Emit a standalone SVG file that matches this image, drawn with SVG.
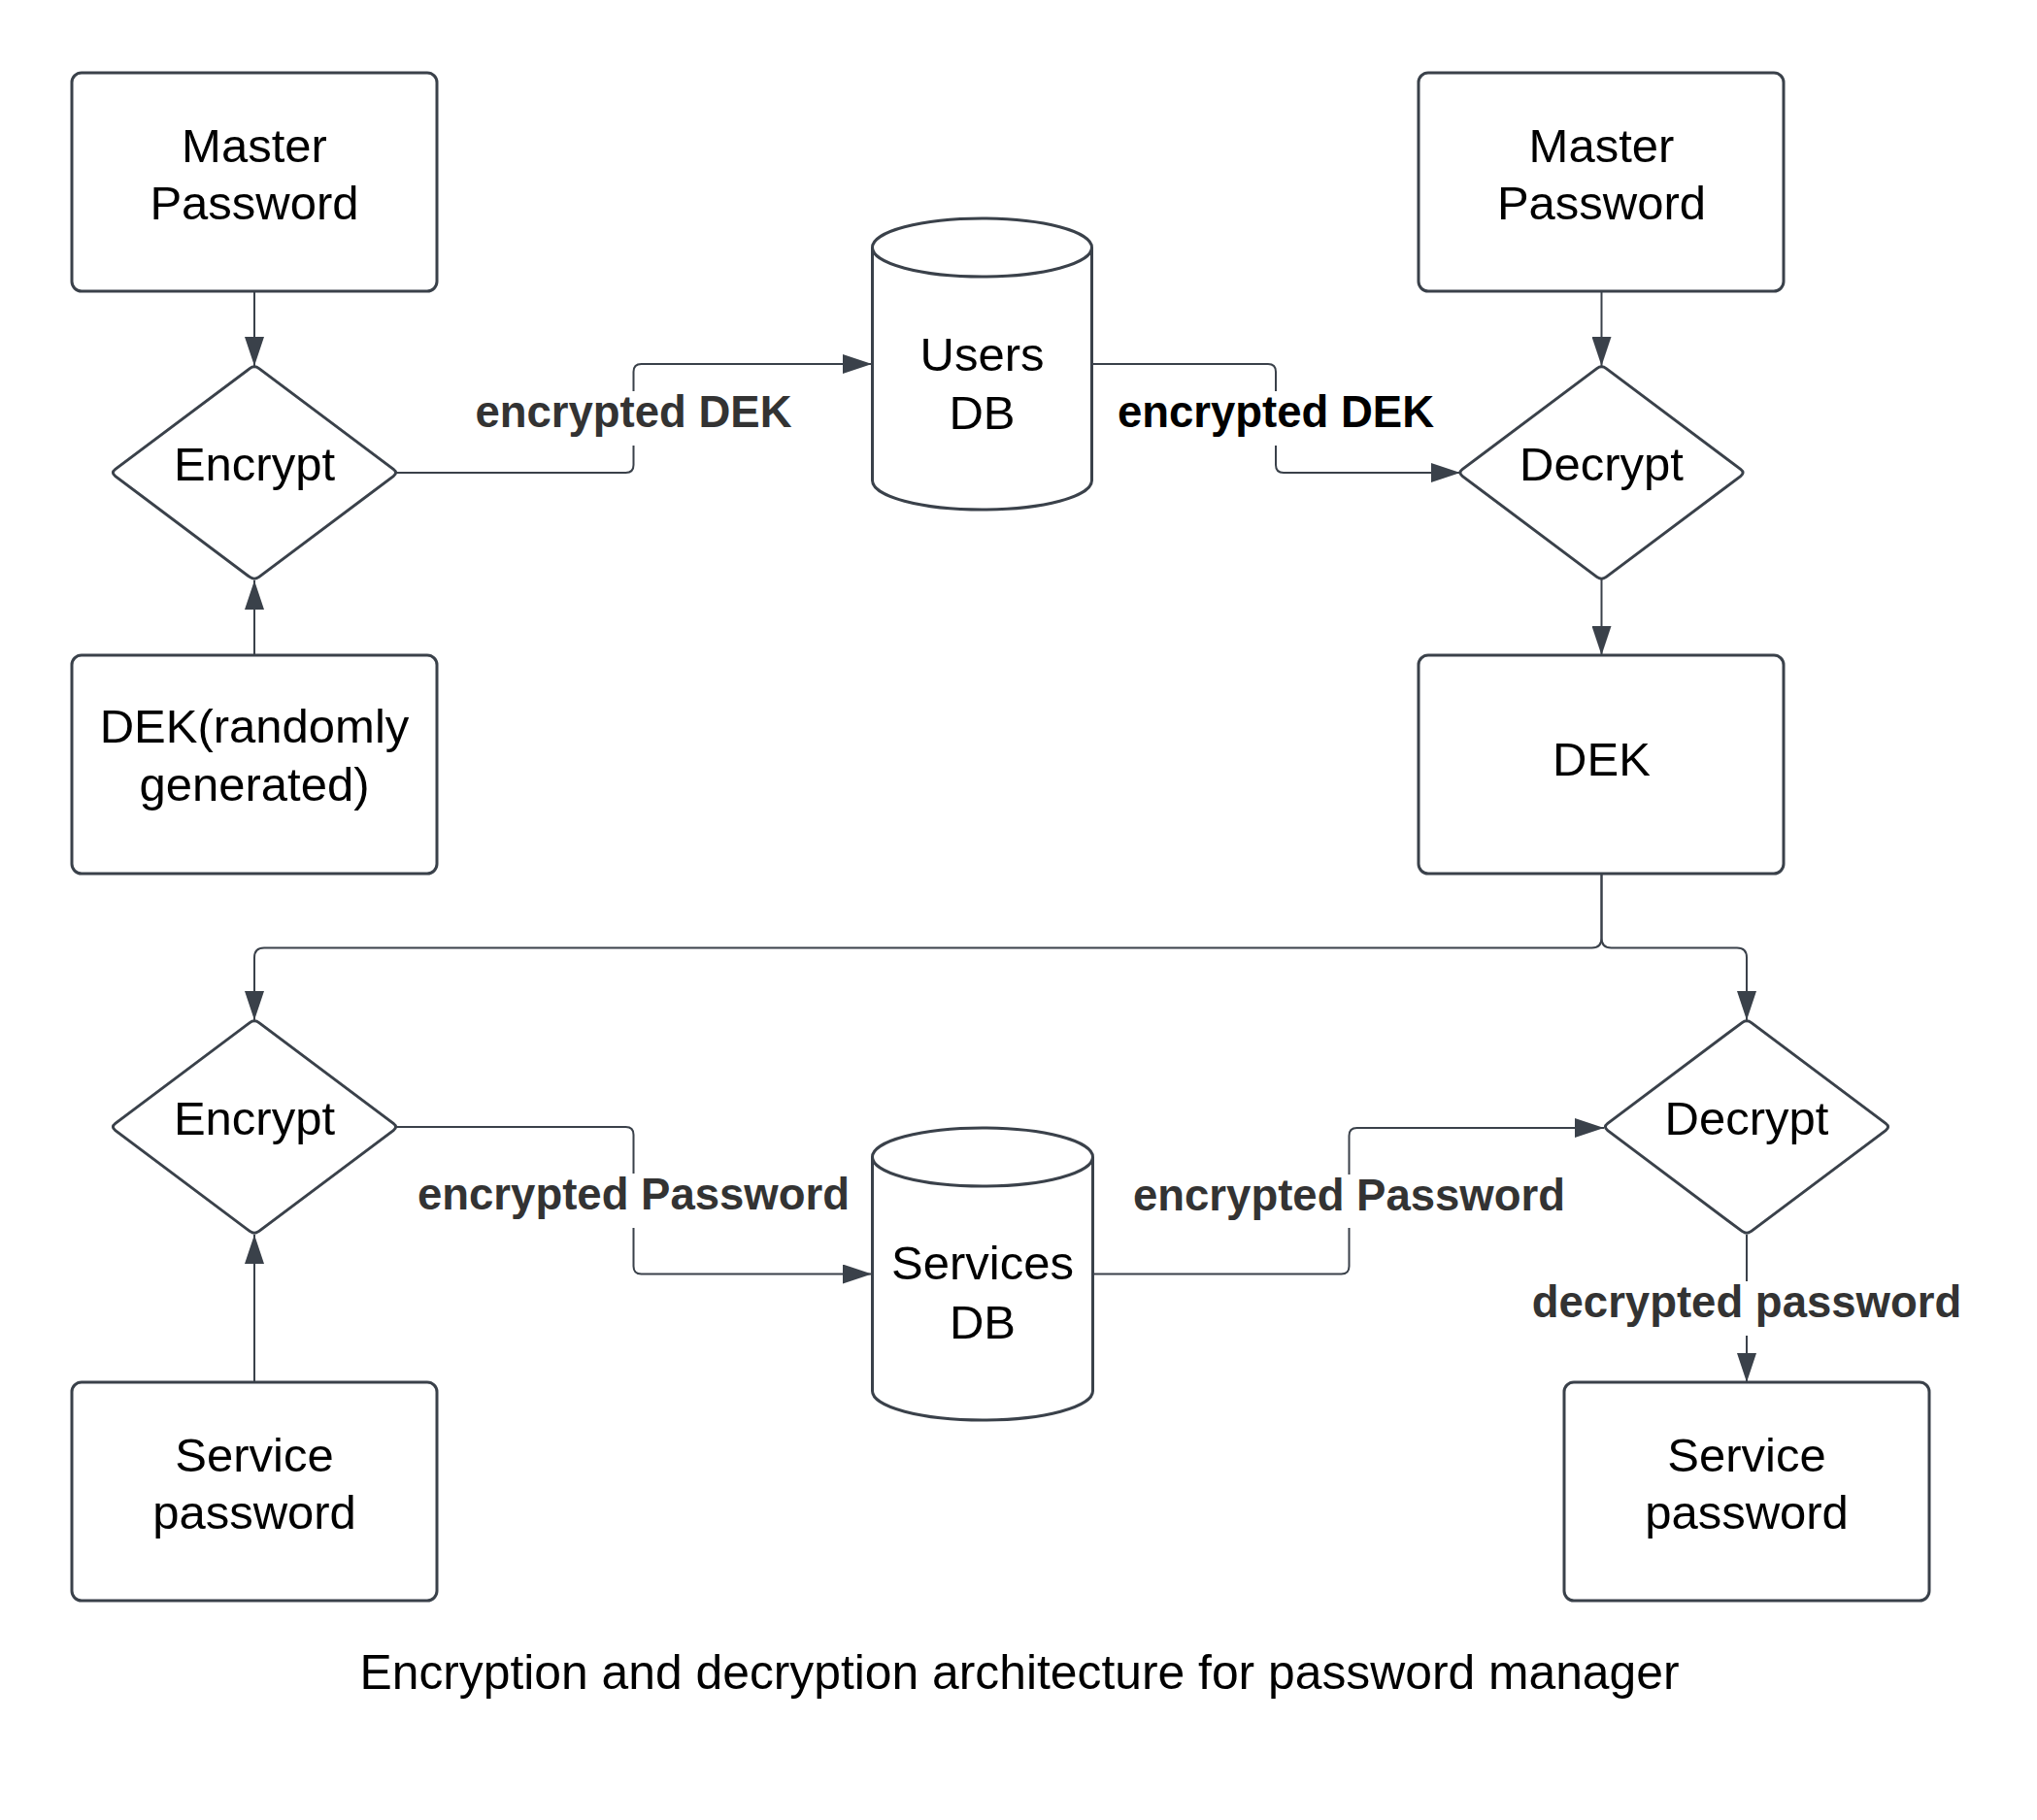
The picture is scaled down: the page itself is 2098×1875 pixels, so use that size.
<svg xmlns="http://www.w3.org/2000/svg" width="2098" height="1875" viewBox="0 0 2098 1875">
<style>
.node{fill:#ffffff;stroke:#3a414a;stroke-width:3;stroke-linejoin:round}
.t{font-family:"Liberation Sans",Arial,sans-serif;font-size:49px;fill:#000000;text-anchor:middle}
.conn{fill:none;stroke:#3a414a;stroke-width:2}
.lbl{font-family:"Liberation Sans",Arial,sans-serif;font-size:45.5px;font-weight:bold;fill:#333333;text-anchor:middle}
.lbg{fill:#ffffff;stroke:none}
.title{font-family:"Liberation Sans",Arial,sans-serif;font-size:49.8px;fill:#000000;text-anchor:middle}
</style>
<defs>
<marker id="arr" viewBox="0 0 30 20" refX="30" refY="10" markerWidth="30" markerHeight="20" markerUnits="userSpaceOnUse" orient="auto">
<path d="M0,0 L30,10 L0,20 Z" fill="#3a414a"/>
</marker>
</defs>
<rect width="2098" height="1875" fill="#ffffff"/>

<g id="connectors">
<path class="conn" d="M262,300 V377" marker-end="url(#arr)"/>
<path class="conn" d="M262,675 V598" marker-end="url(#arr)"/>
<path class="conn" d="M408,487 H644.5 Q652.5,487 652.5,479 V383 Q652.5,375 660.5,375 H898" marker-end="url(#arr)"/>
<path class="conn" d="M1124.5,375 H1306 Q1314,375 1314,383 V479 Q1314,487 1322,487 H1504" marker-end="url(#arr)"/>
<path class="conn" d="M1649.5,300 V377" marker-end="url(#arr)"/>
<path class="conn" d="M1649.5,597 V675" marker-end="url(#arr)"/>
<path class="conn" d="M1649.5,900 V966.5 Q1649.5,976.5 1639.5,976.5 H272 Q262,976.5 262,986.5 V1051" marker-end="url(#arr)"/>
<path class="conn" d="M1649.5,900 V966.5 Q1649.5,976.5 1659.5,976.5 H1789 Q1799,976.5 1799,986.5 V1051" marker-end="url(#arr)"/>
<path class="conn" d="M408,1161 H644.5 Q652.5,1161 652.5,1169 V1304.5 Q652.5,1312.5 660.5,1312.5 H898" marker-end="url(#arr)"/>
<path class="conn" d="M1125.5,1312.5 H1381.5 Q1389.5,1312.5 1389.5,1304.5 V1170 Q1389.5,1162 1397.5,1162 H1652" marker-end="url(#arr)"/>
<path class="conn" d="M1799,1272 V1424" marker-end="url(#arr)"/>
<path class="conn" d="M262,1424 V1272" marker-end="url(#arr)"/>

<rect class="lbg" x="487" y="403" width="331" height="56"/>
<text class="lbl" x="652.5" y="440">encrypted DEK</text>
<rect class="lbg" x="1148" y="403" width="332" height="56"/>
<text class="lbl" x="1314" y="440" style="fill:#000000">encrypted DEK</text>
<rect class="lbg" x="429" y="1209" width="447" height="56"/>
<text class="lbl" x="652.5" y="1246">encrypted Password</text>
<rect class="lbg" x="1166" y="1210" width="447" height="55"/>
<text class="lbl" x="1389.5" y="1246.5">encrypted Password</text>
<rect class="lbg" x="1577" y="1320" width="444" height="56"/>
<text class="lbl" x="1799" y="1356.5">decrypted password</text>
</g>

<g id="master-password-left">
<rect class="node" x="74" y="75" width="376" height="225" rx="10"/>
<text class="t" x="262" y="167">Master</text>
<text class="t" x="262" y="226">Password</text>
</g>

<g id="encrypt-top">
<path class="node" d="M257.2,379.6 Q262,376 266.8,379.6 L405.2,483.4 Q410,487 405.2,490.6 L266.8,594.4 Q262,598 257.2,594.4 L118.8,490.6 Q114,487 118.8,483.4 Z"/>
<text class="t" x="262" y="495">Encrypt</text>
</g>

<g id="dek-random">
<rect class="node" x="74" y="675" width="376" height="225" rx="10"/>
<text class="t" x="262" y="765">DEK(randomly</text>
<text class="t" x="262" y="825">generated)</text>
</g>

<g id="users-db">
<path class="node" d="M898.5,255 A113,30 0 0 1 1124.5,255 L1124.5,495 A113,30 0 0 1 898.5,495 Z"/>
<path class="node" style="fill:none" d="M898.5,255 A113,30 0 0 0 1124.5,255"/>
<text class="t" x="1011.5" y="382">Users</text>
<text class="t" x="1011.5" y="442">DB</text>
</g>

<g id="master-password-right">
<rect class="node" x="1461" y="75" width="376" height="225" rx="10"/>
<text class="t" x="1649.5" y="167">Master</text>
<text class="t" x="1649.5" y="226">Password</text>
</g>

<g id="decrypt-top">
<path class="node" d="M1644.7,379.6 Q1649.5,376 1654.3,379.6 L1792.7,483.4 Q1797.5,487 1792.7,490.6 L1654.3,594.4 Q1649.5,598 1644.7,594.4 L1506.3,490.6 Q1501.5,487 1506.3,483.4 Z"/>
<text class="t" x="1649.5" y="495">Decrypt</text>
</g>

<g id="dek">
<rect class="node" x="1461" y="675" width="376" height="225" rx="10"/>
<text class="t" x="1649.5" y="799">DEK</text>
</g>

<g id="encrypt-bottom">
<path class="node" d="M257.2,1053.6 Q262,1050 266.8,1053.6 L405.2,1157.4 Q410,1161 405.2,1164.6 L266.8,1268.4 Q262,1272 257.2,1268.4 L118.8,1164.6 Q114,1161 118.8,1157.4 Z"/>
<text class="t" x="262" y="1169">Encrypt</text>
</g>

<g id="services-db">
<path class="node" d="M898.5,1192 A113.5,30 0 0 1 1125.5,1192 L1125.5,1433 A113.5,30 0 0 1 898.5,1433 Z"/>
<path class="node" style="fill:none" d="M898.5,1192 A113.5,30 0 0 0 1125.5,1192"/>
<text class="t" x="1012" y="1318">Services</text>
<text class="t" x="1012" y="1379">DB</text>
</g>

<g id="decrypt-bottom">
<path class="node" d="M1794.2,1053.6 Q1799,1050 1803.8,1053.6 L1942.2,1157.4 Q1947,1161 1942.2,1164.6 L1803.8,1268.4 Q1799,1272 1794.2,1268.4 L1655.8,1164.6 Q1651,1161 1655.8,1157.4 Z"/>
<text class="t" x="1799" y="1169">Decrypt</text>
</g>

<g id="service-password-left">
<rect class="node" x="74" y="1424" width="376" height="225" rx="10"/>
<text class="t" x="262" y="1516">Service</text>
<text class="t" x="262" y="1575">password</text>
</g>

<g id="service-password-right">
<rect class="node" x="1611" y="1424" width="376" height="225" rx="10"/>
<text class="t" x="1799" y="1516">Service</text>
<text class="t" x="1799" y="1575">password</text>
</g>

<g id="caption">
<text class="title" x="1050" y="1740">Encryption and decryption architecture for password manager</text>
</g>
</svg>
